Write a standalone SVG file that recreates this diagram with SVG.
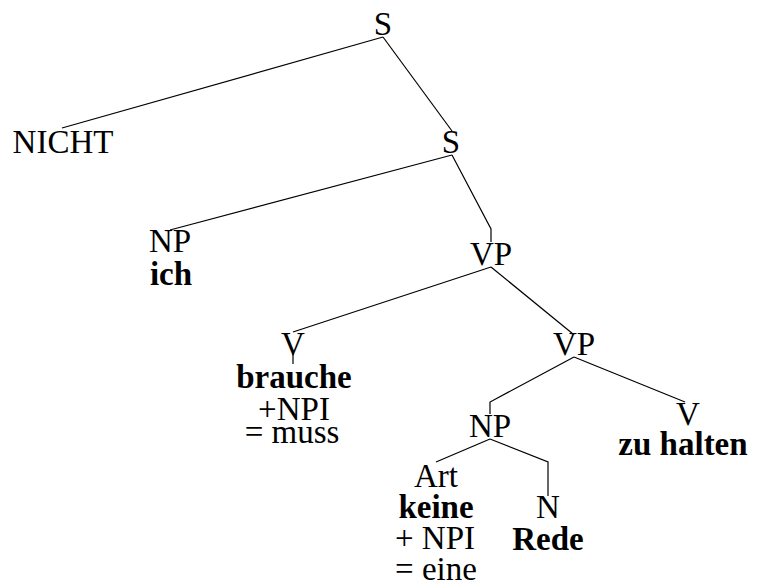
<svg xmlns="http://www.w3.org/2000/svg" width="757" height="583" viewBox="0 0 757 583">
  <style>
    text { font-family: "Liberation Serif", "Times New Roman", serif; font-size: 33px; fill: #000; text-anchor: middle; }
    .b { font-weight: bold; }
    .edge { fill: none; stroke: #000; stroke-width: 1.2; }
  </style>
  <rect width="757" height="583" fill="#fff"/>

  <!-- tree branches -->
  <g id="edges">
    <path class="edge" d="M383,37 L62,128"/>
    <path class="edge" d="M383,37 L452,131"/>
    <path class="edge" d="M452,155 L170,230"/>
    <path class="edge" d="M452,155 L491,229 L491,242"/>
    <path class="edge" d="M491,267 L293,332"/>
    <path class="edge" d="M293,350 L293,364"/>
    <path class="edge" d="M491,267 L573,334"/>
    <path class="edge" d="M574,357 L490,402 L490,414"/>
    <path class="edge" d="M574,357 L685,402"/>
    <path class="edge" d="M490,439 L436,462"/>
    <path class="edge" d="M490,439 L548,462 L548,496"/>
  </g>

  <g id="s-top"><text x="383" y="35">S</text></g>
  <g id="nicht"><text x="63" y="153">NICHT</text></g>
  <g id="s-inner"><text x="451" y="153">S</text></g>
  <g id="np-ich">
    <text x="170" y="252">NP</text>
    <text class="b" x="171" y="285">ich</text>
  </g>
  <g id="vp-upper"><text x="491" y="265">VP</text></g>
  <g id="v-brauche">
    <text x="293" y="355">V</text>
    <text class="b" x="294" y="388">brauche</text>
    <text x="294" y="420">+NPI</text>
    <text x="292" y="443">= muss</text>
  </g>
  <g id="vp-lower"><text x="574" y="355">VP</text></g>
  <g id="np-object"><text x="490" y="437">NP</text></g>
  <g id="v-halten">
    <text x="688" y="425">V</text>
    <text class="b" x="683" y="455">zu halten</text>
  </g>
  <g id="art-keine">
    <text x="436" y="487">Art</text>
    <text class="b" x="436" y="518">keine</text>
    <text x="435" y="549">+ NPI</text>
    <text x="436" y="580">= eine</text>
  </g>
  <g id="n-rede">
    <text x="548" y="518">N</text>
    <text class="b" x="548" y="550">Rede</text>
  </g>
</svg>
